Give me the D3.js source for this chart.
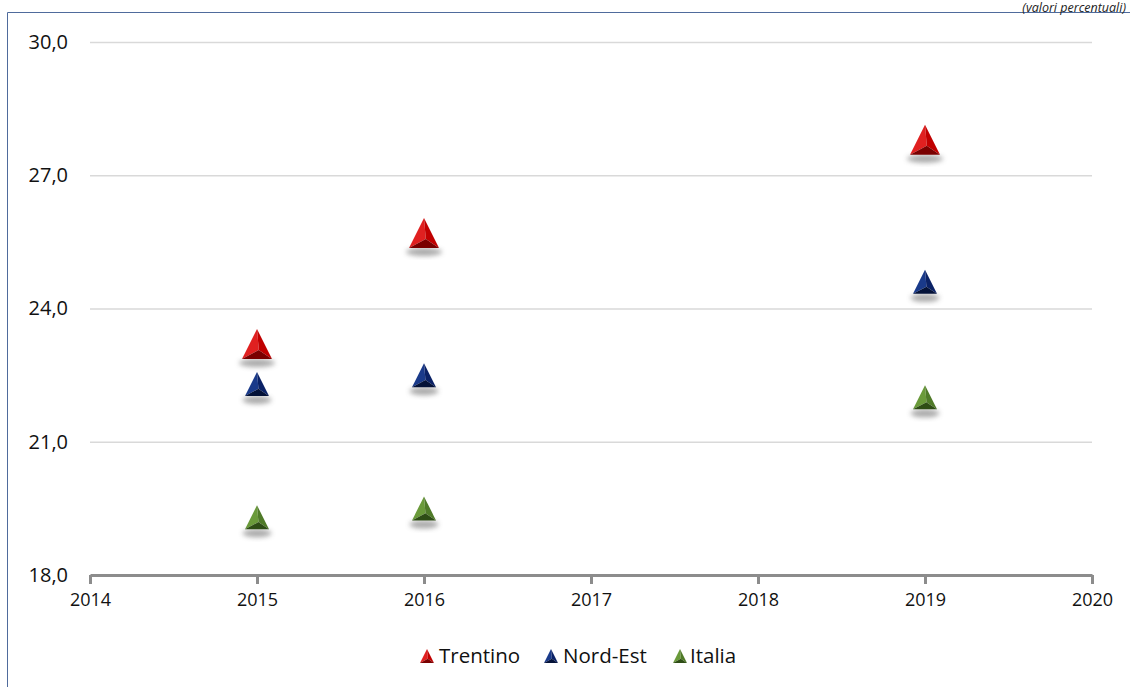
<!DOCTYPE html>
<html>
<head>
<meta charset="utf-8">
<script src="https://cdn.jsdelivr.net/npm/d3@7"></script>
<style>
  html, body { margin: 0; padding: 0; background: #fff; }
  svg { display: block; font-family: "Open Sans", "Noto Sans", sans-serif; }
</style>
</head>
<body>
<svg id="chart" width="1130" height="687"></svg>
<script>
const years = [2015, 2016, 2019];
const seriesNames = ["Trentino", "Nord-Est", "Italia"];
const trentino = [23.2, 25.7, 27.8];
const nordEst = [22.3, 22.5, 24.6];
const italia = [19.3, 19.5, 22.0];
const yTicks = [18, 21, 24, 27, 30];
const xTicks = [2014, 2015, 2016, 2017, 2018, 2019, 2020];
const subtitle = "(valori percentuali)";

const colors = {
  "Trentino": ["#e02020", "#c00000", "#7a0000"],
  "Nord-Est": ["#1a3a8a", "#0b2266", "#041238"],
  "Italia":   ["#6a9a3a", "#4f7a28", "#2e4d15"]
};
const markerSize = { "Trentino": 30, "Nord-Est": 24, "Italia": 24 };

const svg = d3.select("#chart");
const defs = svg.append("defs");
const f = defs.append("filter").attr("id", "blur").attr("x", "-50%").attr("y", "-50%").attr("width", "200%").attr("height", "200%");
f.append("feGaussianBlur").attr("stdDeviation", 2.5);

// frame
svg.append("line").attr("x1", 7.5).attr("x2", 7.5).attr("y1", 12.5).attr("y2", 687).attr("stroke", "#4f6b9c").attr("stroke-width", 1);
svg.append("line").attr("x1", 7.5).attr("x2", 1130).attr("y1", 12.5).attr("y2", 12.5).attr("stroke", "#4f6b9c").attr("stroke-width", 1);

svg.append("text").attr("x", 1126).attr("y", 11.5).attr("text-anchor", "end")
  .attr("font-style", "italic").attr("font-size", 12.5).attr("fill", "#222").text(subtitle);

const x = d3.scaleLinear().domain([2014, 2020]).range([90, 1092]);
const y = d3.scaleLinear().domain([18, 30]).range([575, 42]);

// gridlines
svg.append("g").selectAll("line").data(yTicks.filter(d => d > 18)).join("line")
  .attr("x1", x(2014)).attr("x2", x(2020))
  .attr("y1", d => y(d) + 0.5).attr("y2", d => y(d) + 0.5)
  .attr("stroke", "#d9d9d9").attr("stroke-width", 1.5);

// y axis labels
const yAxis = d3.axisLeft(y).tickValues(yTicks).tickSize(0).tickPadding(22)
  .tickFormat(d => d3.format(".1f")(d).replace(".", ","));
const gy = svg.append("g").attr("transform", `translate(${x(2014)},0)`).call(yAxis);
gy.select(".domain").remove();
gy.selectAll("text").attr("font-size", 20).attr("fill", "#111").attr("font-family", "\"Open Sans\", sans-serif");

// x axis
const xAxis = d3.axisBottom(x).tickValues(xTicks).tickSize(9).tickPadding(9).tickFormat(d3.format("d")).tickSizeOuter(0);
const gx = svg.append("g").attr("transform", `translate(0,${y(18)})`).call(xAxis);
gx.select(".domain").attr("stroke", "#8c8c8c").attr("stroke-width", 3);
gx.selectAll(".tick line").attr("stroke", "#8c8c8c").attr("stroke-width", 3);
gx.selectAll("text").attr("font-size", 18).attr("fill", "#111").attr("font-family", "\"Open Sans\", sans-serif");

function triangle(g, cx, cy, s, cols, shadow) {
  const h = s;
  const top = [cx, cy - h / 2], bl = [cx - s / 2, cy + h / 2], br = [cx + s / 2, cy + h / 2];
  const inner = [cx + s * 0.06, cy + h * 0.2];
  if (shadow) {
    g.append("ellipse").attr("cx", cx).attr("cy", cy + h / 2 + 4).attr("rx", s * 0.6).attr("ry", 4)
      .attr("fill", "#555").attr("opacity", 0.5).attr("filter", "url(#blur)");
  }
  const p = a => a.join(",");
  g.append("polygon").attr("points", [top, bl, inner].map(p).join(" ")).attr("fill", cols[0]);
  g.append("polygon").attr("points", [top, inner, br].map(p).join(" ")).attr("fill", cols[1]);
  g.append("polygon").attr("points", [bl, br, inner].map(p).join(" ")).attr("fill", cols[2]);
}

const allSeries = [
  { name: "Trentino", values: trentino },
  { name: "Nord-Est", values: nordEst },
  { name: "Italia", values: italia }
];
const marks = svg.append("g");
allSeries.forEach(s => {
  s.values.forEach((v, i) => {
    triangle(marks, x(years[i]), y(v), markerSize[s.name], colors[s.name], true);
  });
});

// legend
const legendItems = [
  { name: seriesNames[0], x: 427, tx: 439 },
  { name: seriesNames[1], x: 551, tx: 563 },
  { name: seriesNames[2], x: 680, tx: 690 }
];
const lg = svg.append("g");
legendItems.forEach(it => {
  triangle(lg, it.x, 656, 14, colors[it.name], false);
  lg.append("text").attr("x", it.tx).attr("y", 663).attr("font-size", 20.5).attr("fill", "#111").text(it.name);
});
</script>
</body>
</html>
